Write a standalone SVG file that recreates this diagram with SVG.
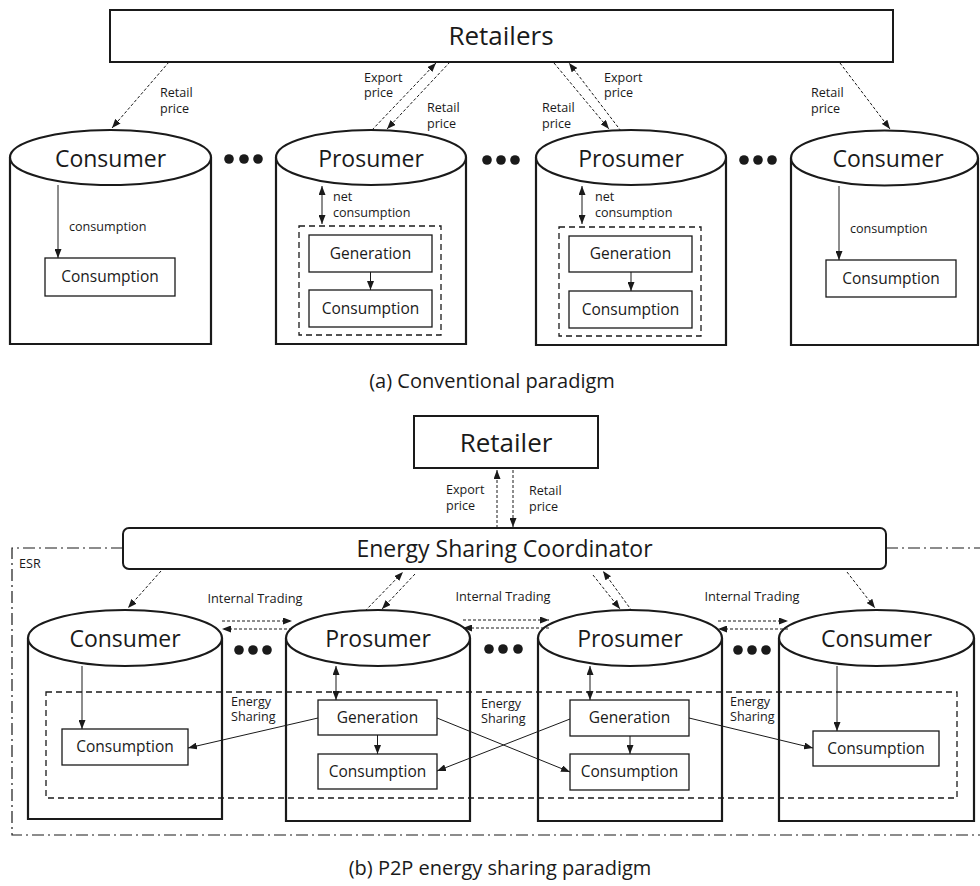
<svg xmlns="http://www.w3.org/2000/svg" width="980" height="886" viewBox="0 0 980 886">
<defs>
<marker id="ah" viewBox="0 0 9 7" refX="9" refY="3.5" markerWidth="9" markerHeight="7" markerUnits="userSpaceOnUse" orient="auto-start-reverse"><path d="M0,0 L9,3.5 L0,7 z" fill="#1a1a1a"/></marker>
<style>
text{font-family:"Open Sans","Liberation Sans",sans-serif;fill:#1a1a1a}
.big{font-size:26px;text-anchor:middle}
.cyl{font-size:23px;text-anchor:middle}
.box{font-size:15.5px;text-anchor:middle}
.lbl{font-size:12.6px}
.lblc{font-size:12.8px;text-anchor:middle}
.cap{font-size:20px;text-anchor:middle}
.cylshape{fill:#fff;stroke:#1a1a1a;stroke-width:2.2}
.bx{fill:#fff;stroke:#1a1a1a;stroke-width:1.3}
.dbox{fill:none;stroke:#1a1a1a;stroke-width:1.3;stroke-dasharray:6,4}
.sol{fill:none;stroke:#1a1a1a;stroke-width:1;marker-end:url(#ah)}
.dbl{fill:none;stroke:#1a1a1a;stroke-width:1;marker-end:url(#ah);marker-start:url(#ah)}
.dot{fill:none;stroke:#1a1a1a;stroke-width:1;stroke-dasharray:3,2;marker-end:url(#ah)}
.esr{fill:none;stroke:#1a1a1a;stroke-width:1.2;stroke-dasharray:12,4,2,4}
.dots{fill:#1a1a1a}
</style>
</defs>
<rect width="980" height="886" fill="#fff"/>

<!-- ===== (a) Conventional paradigm ===== -->
<g id="retailers">
<rect x="110" y="10" width="783" height="52" fill="#fff" stroke="#1a1a1a" stroke-width="2"/>
<text class="big" x="501" y="45">Retailers</text>
</g>

<g id="a-consumer1">
<path class="cylshape" d="M10,157.5 V344 H211 V157.5"/>
<ellipse class="cylshape" cx="110.5" cy="157.5" rx="100.5" ry="27.5"/>
<text class="cyl" x="110.5" y="167">Consumer</text>
<rect class="bx" x="45" y="258" width="130" height="38"/>
<text class="box" x="110" y="282">Consumption</text>
<line class="sol" x1="58" y1="185" x2="58" y2="258"/>
<text class="lbl" x="69" y="231">consumption</text>
</g>

<g id="a-prosumer1">
<path class="cylshape" d="M276,157.5 V344 H466 V157.5"/>
<ellipse class="cylshape" cx="371" cy="157.5" rx="95" ry="27.5"/>
<text class="cyl" x="371" y="167">Prosumer</text>
<rect class="dbox" x="299" y="226" width="142" height="109"/>
<rect class="bx" x="309" y="235" width="123" height="37"/>
<text class="box" x="370.5" y="259">Generation</text>
<rect class="bx" x="309" y="290" width="123" height="37"/>
<text class="box" x="370.5" y="314">Consumption</text>
<line class="sol" x1="370.5" y1="272" x2="370.5" y2="290"/>
<line class="dbl" x1="322" y1="186" x2="322" y2="224"/>
<text class="lbl" x="333" y="201">net<tspan x="333" dy="16">consumption</tspan></text>
</g>

<g id="a-prosumer2">
<path class="cylshape" d="M536,157.5 V345 H726 V157.5"/>
<ellipse class="cylshape" cx="631" cy="157.5" rx="95" ry="27.5"/>
<text class="cyl" x="631" y="167">Prosumer</text>
<rect class="dbox" x="559" y="227" width="142" height="109"/>
<rect class="bx" x="569" y="236" width="123" height="36"/>
<text class="box" x="630.5" y="259">Generation</text>
<rect class="bx" x="569" y="291" width="123" height="37"/>
<text class="box" x="630.5" y="315">Consumption</text>
<line class="sol" x1="631" y1="272" x2="631" y2="291"/>
<line class="dbl" x1="582" y1="186" x2="582" y2="224"/>
<text class="lbl" x="595" y="201">net<tspan x="595" dy="16">consumption</tspan></text>
</g>

<g id="a-consumer2">
<path class="cylshape" d="M791,158 V345 H978 V158"/>
<ellipse class="cylshape" cx="884.5" cy="158" rx="93.5" ry="27.5"/>
<text class="cyl" x="888" y="167">Consumer</text>
<rect class="bx" x="826" y="260" width="130" height="37"/>
<text class="box" x="891" y="284">Consumption</text>
<line class="sol" x1="839" y1="186" x2="839" y2="260"/>
<text class="lbl" x="850" y="233">consumption</text>
</g>

<g id="a-dots">
<circle class="dots" cx="229" cy="159" r="4.8"/><circle class="dots" cx="244" cy="159" r="4.8"/><circle class="dots" cx="258" cy="159" r="4.8"/>
<circle class="dots" cx="487" cy="160" r="4.8"/><circle class="dots" cx="501" cy="160" r="4.8"/><circle class="dots" cx="515" cy="160" r="4.8"/>
<circle class="dots" cx="744" cy="160" r="4.8"/><circle class="dots" cx="758" cy="160" r="4.8"/><circle class="dots" cx="772" cy="160" r="4.8"/>
</g>

<g id="a-connectors">
<line class="dot" x1="169" y1="62" x2="112" y2="128"/>
<line class="dot" x1="372" y1="130" x2="436" y2="63"/>
<line class="dot" x1="450" y1="62" x2="387" y2="129"/>
<line class="dot" x1="554" y1="63" x2="609" y2="129"/>
<line class="dot" x1="621" y1="131" x2="569" y2="63"/>
<line class="dot" x1="840" y1="63" x2="890" y2="129"/>
</g>
<g id="a-labels">
<text class="lbl" x="160" y="97">Retail<tspan x="160" dy="16">price</tspan></text>
<text class="lbl" x="364" y="82">Export<tspan x="364" dy="15">price</tspan></text>
<text class="lbl" x="427" y="112">Retail<tspan x="427" dy="16">price</tspan></text>
<text class="lbl" x="542" y="112">Retail<tspan x="542" dy="16">price</tspan></text>
<text class="lbl" x="604" y="82">Export<tspan x="604" dy="15">price</tspan></text>
<text class="lbl" x="811" y="97">Retail<tspan x="811" dy="16">price</tspan></text>
</g>
<text class="cap" x="492" y="388">(a) Conventional paradigm</text>

<!-- ===== (b) P2P energy sharing paradigm ===== -->
<g id="esr">
<path class="esr" d="M123,548 H12 V835 H980 M886,548 H980"/>
<text class="lbl" x="19" y="568">ESR</text>
</g>

<g id="retailer">
<rect x="414" y="416" width="184" height="52" fill="#fff" stroke="#1a1a1a" stroke-width="2"/>
<text class="big" x="506" y="452">Retailer</text>
</g>

<g id="coordinator">
<rect x="123" y="528" width="763" height="41" rx="6" fill="#fff" stroke="#1a1a1a" stroke-width="2"/>
<text x="504.5" y="557" style="font-size:23px;text-anchor:middle">Energy Sharing Coordinator</text>
</g>

<g id="b-consumer1">
<path class="cylshape" d="M28,638 V819 H222 V638"/>
<ellipse class="cylshape" cx="125" cy="638" rx="97" ry="28"/>
<text class="cyl" x="125" y="647">Consumer</text>
</g>
<g id="b-prosumer1">
<path class="cylshape" d="M286,638 V821 H470 V638"/>
<ellipse class="cylshape" cx="378" cy="638" rx="92" ry="28"/>
<text class="cyl" x="378" y="647">Prosumer</text>
</g>
<g id="b-prosumer2">
<path class="cylshape" d="M538,638 V821 H722 V638"/>
<ellipse class="cylshape" cx="630" cy="638" rx="92" ry="28"/>
<text class="cyl" x="630" y="647">Prosumer</text>
</g>
<g id="b-consumer2">
<path class="cylshape" d="M779,638 V821 H974 V638"/>
<ellipse class="cylshape" cx="876.5" cy="638" rx="97.5" ry="28"/>
<text class="cyl" x="876.5" y="647">Consumer</text>
</g>

<rect id="sharing-area" class="dbox" x="46" y="692" width="911" height="106"/>

<g id="b-cons1"><rect class="bx" x="62" y="729" width="126" height="36"/><text class="box" x="125" y="752">Consumption</text></g>
<g id="b-gen2"><rect class="bx" x="318" y="700" width="119" height="35"/><text class="box" x="377.5" y="723">Generation</text></g>
<g id="b-cons2"><rect class="bx" x="318" y="754" width="119" height="35"/><text class="box" x="377.5" y="777">Consumption</text></g>
<g id="b-gen3"><rect class="bx" x="570" y="700" width="119" height="36"/><text class="box" x="629.5" y="723">Generation</text></g>
<g id="b-cons3"><rect class="bx" x="570" y="754" width="119" height="36"/><text class="box" x="629.5" y="777">Consumption</text></g>
<g id="b-cons4"><rect class="bx" x="813" y="731" width="126" height="35"/><text class="box" x="876" y="754">Consumption</text></g>

<g id="b-dots">
<circle class="dots" cx="239" cy="650" r="4.8"/><circle class="dots" cx="253" cy="650" r="4.8"/><circle class="dots" cx="267" cy="650" r="4.8"/>
<circle class="dots" cx="489" cy="649" r="4.8"/><circle class="dots" cx="503" cy="649" r="4.8"/><circle class="dots" cx="518" cy="649" r="4.8"/>
<circle class="dots" cx="738" cy="650" r="4.8"/><circle class="dots" cx="752" cy="650" r="4.8"/><circle class="dots" cx="766" cy="650" r="4.8"/>
</g>

<g id="b-connectors">
<line class="dot" x1="497" y1="528" x2="497" y2="470"/>
<line class="dot" x1="513" y1="470" x2="513" y2="527"/>
<line class="dot" x1="161" y1="571" x2="128" y2="608"/>
<line class="dot" x1="365" y1="611" x2="403" y2="572"/>
<line class="dot" x1="415" y1="574" x2="382" y2="609"/>
<line class="dot" x1="593" y1="575" x2="620" y2="609"/>
<line class="dot" x1="632" y1="611" x2="603" y2="571"/>
<line class="dot" x1="847" y1="572" x2="875" y2="608"/>
<line class="dot" x1="222" y1="621" x2="292" y2="621"/>
<line class="dot" x1="292" y1="629" x2="222" y2="629"/>
<line class="dot" x1="463" y1="620" x2="549" y2="620"/>
<line class="dot" x1="549" y1="628" x2="463" y2="628"/>
<line class="dot" x1="718" y1="621" x2="788" y2="621"/>
<line class="dot" x1="788" y1="629" x2="718" y2="629"/>
<line class="sol" x1="82" y1="666" x2="82" y2="729"/>
<line class="dbl" x1="336" y1="666" x2="336" y2="700"/>
<line class="sol" x1="377.5" y1="735" x2="377.5" y2="754"/>
<line class="dbl" x1="590" y1="666" x2="590" y2="700"/>
<line class="sol" x1="630" y1="736" x2="630" y2="754"/>
<line class="sol" x1="837" y1="666" x2="837" y2="731"/>
<line class="sol" x1="318" y1="718" x2="188" y2="748"/>
<line class="sol" x1="437" y1="718" x2="570" y2="772"/>
<line class="sol" x1="570" y1="719" x2="437" y2="771"/>
<line class="sol" x1="689" y1="718" x2="813" y2="748"/>
</g>

<g id="b-labels">
<text class="lbl" x="446" y="494">Export<tspan x="446" dy="16">price</tspan></text>
<text class="lbl" x="529" y="495">Retail<tspan x="529" dy="16">price</tspan></text>
<text class="lblc" x="255" y="603">Internal Trading</text>
<text class="lblc" x="503" y="601">Internal Trading</text>
<text class="lblc" x="752" y="601">Internal Trading</text>
<text class="lbl" x="231" y="706">Energy<tspan x="231" dy="15">Sharing</tspan></text>
<text class="lbl" x="481" y="708">Energy<tspan x="481" dy="15">Sharing</tspan></text>
<text class="lbl" x="730" y="706">Energy<tspan x="730" dy="15">Sharing</tspan></text>
</g>
<text class="cap" x="500" y="875">(b) P2P energy sharing paradigm</text>
</svg>
